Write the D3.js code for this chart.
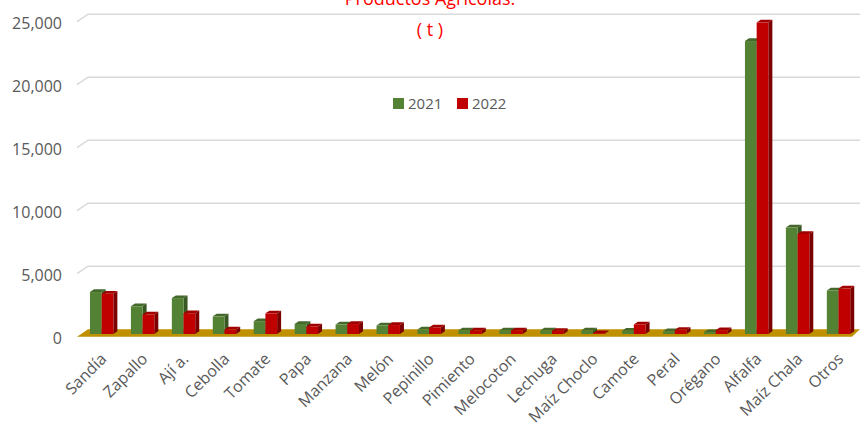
<!DOCTYPE html>
<html>
<head>
<meta charset="utf-8">
<script src="https://cdn.jsdelivr.net/npm/d3@7"></script>
<style>
  html, body { margin: 0; padding: 0; background: #fff; }
  svg { display: block; }
  text { font-family: "Open Sans", "DejaVu Sans", sans-serif; }
</style>
</head>
<body>
<svg id="chart" width="860" height="423"></svg>
<script>
const categories = ["Sandía","Zapallo","Ají a.","Cebolla","Tomate","Papa","Manzana","Melón","Pepinillo","Pimiento","Melocoton","Lechuga","Maíz Choclo","Camote","Peral","Orégano","Alfalfa","Maíz Chala","Otros"];
const series = ["2021","2022"];
const values2021 = [3330,2200,2850,1400,1020,800,750,670,360,280,280,280,280,260,220,150,23250,8450,3450];
const values2022 = [3200,1550,1650,360,1640,600,790,710,520,280,280,250,60,760,330,300,24720,7940,3610];
const yTicks = [0,5000,10000,15000,20000,25000];
const titleLines = ["Productos Agrícolas:", "( t )"];

const colors = {"2021": "#548235", "2022": "#C00000"};
const sideColors = {"2021": "#385723", "2022": "#7B0000"};
const topColors = {"2021": "#45692B", "2022": "#A00000"};

const svg = d3.select("#chart");
const dx = 11, dy = 7.5;       // back wall offset
const frontLeft = 77, rightEdge = 860;

const yFront = d3.scaleLinear().domain([0, 25000]).range([336.7, 21.7]);
const yBar = d3.scaleLinear().domain([0, 25000]).range([334, 19]);
const x = d3.scaleBand().domain(categories).range([81.2, 859]).padding(0);
const bw = x.bandwidth();
const barW = 11.7;
const xs = d3.scaleBand().domain(series).range([bw/2 - barW, bw/2 + barW]).padding(0);
const depth = 4, rise = 2.7;

// gridlines (back wall)
const grid = svg.append("g");
yTicks.slice(1).forEach(t => {
  const yf = yFront(t), yb = yf - dy;
  grid.append("path")
    .attr("d", `M${frontLeft},${yf}L${frontLeft+dx},${yb}L${rightEdge},${yb}`)
    .attr("fill", "none").attr("stroke", "#D9D9D9").attr("stroke-width", 1.5);
});

// floor
const yf0 = yFront(0);
svg.append("path")
  .attr("d", `M${frontLeft},${yf0}L${frontLeft+dx},${yf0-dy}L${rightEdge},${yf0-dy}L${rightEdge-8},${yf0}Z`)
  .attr("fill", "#BF9000");

// y tick labels
const yAxis = d3.axisLeft(yFront).tickValues(yTicks).tickSize(0).tickPadding(0).tickFormat(d3.format(","));
const ya = svg.append("g").attr("transform", "translate(62,1.5)").call(yAxis);
ya.select(".domain").remove();
ya.selectAll("text").attr("fill", "#595959").style("font-size", "16px").style("font-family", "'Open Sans', sans-serif");

// bars
const data = categories.map((c, i) => ({cat: c, vals: [values2021[i], values2022[i]]}));
const gBars = svg.append("g");
data.forEach(d => {
  series.forEach((s, si) => {
    const v = d.vals[si];
    const x0 = x(d.cat) + xs(s);
    const x1 = x0 + barW;
    const yt = yBar(v), yb = yBar(0);
    const g = gBars.append("g");
    g.append("path")
      .attr("d", `M${x1},${yb}L${x1},${yt}L${x1+depth},${yt-rise}L${x1+depth},${yb-rise}Z`)
      .attr("fill", sideColors[s]);
    g.append("path")
      .attr("d", `M${x0},${yt}L${x0+depth},${yt-rise}L${x1+depth},${yt-rise}L${x1},${yt}Z`)
      .attr("fill", topColors[s]);
    g.append("rect")
      .attr("x", x0).attr("y", yt).attr("width", barW).attr("height", Math.max(0, yb - yt))
      .attr("fill", colors[s]);
  });
});

// category labels
svg.append("g").selectAll("text").data(categories).join("text")
  .attr("transform", d => `translate(${x(d) + bw/2 + 2},${356}) rotate(-45)`)
  .attr("text-anchor", "end")
  .attr("dy", "0.35em")
  .attr("fill", "#595959")
  .style("font-size", "16px")
  .text(d => d);

// title
svg.append("text").attr("x", 430).attr("y", 5).attr("text-anchor", "middle")
  .attr("fill", "#FF0000").style("font-size", "18px").text(titleLines[0]);
svg.append("text").attr("x", 430).attr("y", 36).attr("text-anchor", "middle")
  .attr("fill", "#FF0000").style("font-size", "18px").text(titleLines[1]);

// legend
const legend = svg.append("g");
const legX = [393, 457];
series.forEach((s, i) => {
  legend.append("rect").attr("x", legX[i]).attr("y", 98).attr("width", 11).attr("height", 11).attr("fill", colors[s]);
  legend.append("text").attr("x", legX[i] + 15).attr("y", 103.5).attr("dy", "0.35em")
    .attr("fill", "#595959").style("font-size", "15px").text(s);
});
</script>
</body>
</html>
